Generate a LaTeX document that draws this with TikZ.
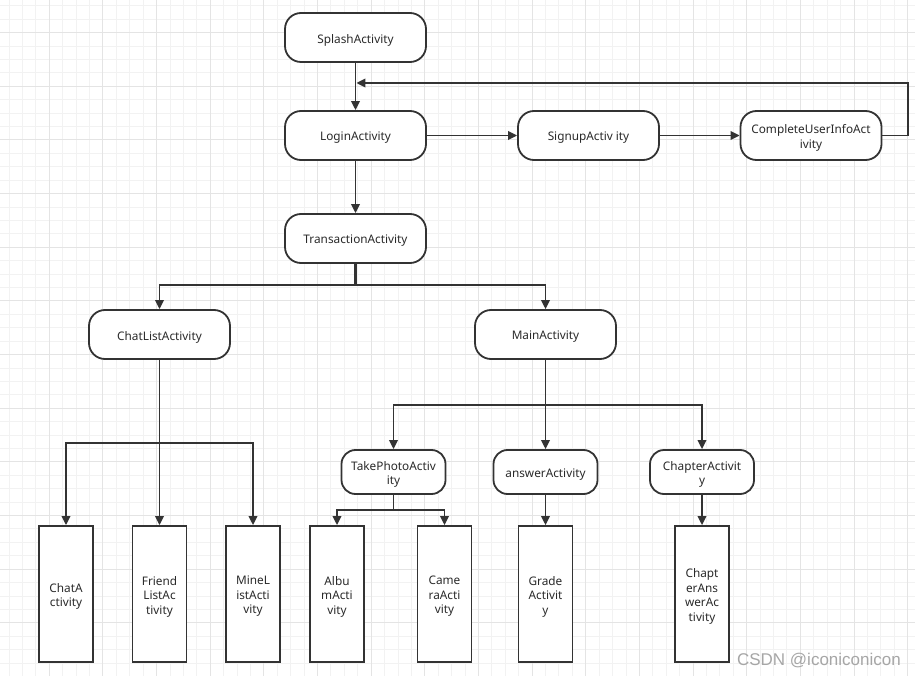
\documentclass[tikz,border=0pt]{standalone}
\usepackage{fontspec}
\setmainfont{Noto Sans}
\newfontfamily\wmfont{Liberation Sans}
\usetikzlibrary{arrows.meta}
\definecolor{ink}{HTML}{333333}
\definecolor{txt}{HTML}{2A2A2A}
\definecolor{gridminor}{HTML}{F2F2F2}
\definecolor{gridmajor}{HTML}{E4E4E4}
\definecolor{wm}{HTML}{A6A6A6}
\tikzset{
  roundbox/.style={draw=ink, line width=1.8pt, rounded corners=16pt, fill=white,
    minimum width=141pt, minimum height=49pt, inner sep=0pt},
  smallround/.style={roundbox, minimum width=104pt, minimum height=44pt, rounded corners=14pt},
  tallbox/.style={draw=ink, line width=1.8pt, fill=white, minimum width=54pt,
    minimum height=136pt, inner sep=0pt},
  lbl/.style={align=center, inner sep=0pt, text=txt, yshift=-2.5pt,
    font=\fontsize{11.8}{14.5}\selectfont},
  conn/.style={draw=ink, line width=1.8pt},
  arr/.style={conn, -{Triangle[length=9pt,width=8.5pt]}},
}
\begin{document}
\begin{tikzpicture}[x=1pt,y=-1pt]
\useasboundingbox (0,0) rectangle (915,676);
\fill[white] (0,0) rectangle (915,676);
% grid
\foreach \i in {0,...,69} {
  \draw[gridminor, line width=1pt] ({-4.35+\i*13.4125},0) -- ({-4.35+\i*13.4125},676);
}
\foreach \j in {0,...,52} {
  \draw[gridminor, line width=1pt] (0,{-7.54+\j*13.4125}) -- (915,{-7.54+\j*13.4125});
}
\foreach \i in {0,...,17} {
  \draw[gridmajor, line width=1pt] ({49.3+(\i-1)*53.65},0) -- ({49.3+(\i-1)*53.65},676);
}
\foreach \j in {0,...,13} {
  \draw[gridmajor, line width=1pt] (0,{32.7+(\j-1)*53.65}) -- (915,{32.7+(\j-1)*53.65});
}

% boxes
\node[roundbox] (splash) at (355.5,37.5) {};
\node[roundbox] (login) at (355.5,135.5) {};
\node[roundbox] (signup) at (588.5,135.5) {};
\node[roundbox] (complete) at (811,135.5) {};
\node[roundbox] (trans) at (355.5,238.5) {};
\node[roundbox] (chatlist) at (159.5,334.5) {};
\node[roundbox] (main) at (545.5,334.5) {};
\node[smallround] (takephoto) at (393.5,472) {};
\node[smallround] (answer) at (545.5,472) {};
\node[smallround] (chapter) at (702,472) {};

\node[tallbox] (chata) at (66,594) {};
\node[tallbox] (friend) at (159.5,594) {};
\node[tallbox] (mine) at (253,594) {};
\node[tallbox] (album) at (337,594) {};
\node[tallbox] (camera) at (444.5,594) {};
\node[tallbox] (grade) at (545.5,594) {};
\node[tallbox] (chapans) at (702,594) {};

% labels
\node[lbl] (splash-t) at (splash.center) {SplashActivity};
\node[lbl] (login-t) at (login.center) {LoginActivity};
\node[lbl] (signup-t) at (signup.center) {SignupActiv ity};
\node[lbl] (complete-t) at (complete.center) {CompleteUserInfoAct\\ivity};
\node[lbl] (trans-t) at (trans.center) {TransactionActivity};
\node[lbl] (chatlist-t) at (chatlist.center) {ChatListActivity};
\node[lbl] (main-t) at (main.center) {MainActivity};
\node[lbl] (takephoto-t) at (takephoto.center) {TakePhotoActiv\\ity};
\node[lbl] (answer-t) at (answer.center) {answerActivity};
\node[lbl] (chapter-t) at (chapter.center) {ChapterActivit\\y};
\node[lbl] (chata-t) at (chata.center) {ChatA\\ctivity};
\node[lbl] (friend-t) at (friend.center) {Friend\\ListAc\\tivity};
\node[lbl] (mine-t) at (mine.center) {MineL\\istActi\\vity};
\node[lbl] (album-t) at (album.center) {Albu\\mActi\\vity};
\node[lbl] (camera-t) at (camera.center) {Came\\raActi\\vity};
\node[lbl] (grade-t) at (grade.center) {Grade\\Activit\\y};
\node[lbl] (chapans-t) at (chapans.center) {Chapt\\erAns\\werAc\\tivity};

% connectors
\draw[arr] (splash) -- (login);
\coordinate (fbR) at (908,83);
\coordinate (fbL) at (356.4,83);
\draw[arr] (complete.east) -| (fbR) -- (fbL);
\draw[arr] (login) -- (signup);
\draw[arr] (signup) -- (complete);
\draw[arr] (login) -- (trans);

\coordinate (tj) at (355.5,285);
\draw[conn, line width=2.4pt] (trans.south) -- (tj);
\draw[arr] (tj) -| (chatlist.north);
\draw[arr] (tj) -| (main.north);

\coordinate (cj) at (159.5,443);
\draw[arr] (chatlist) -- (friend);
\draw[arr] (cj) -| (chata.north);
\draw[arr] (cj) -| (mine.north);

\coordinate (mj) at (545.5,405);
\draw[arr] (main) -- (answer);
\draw[arr] (mj) -| (takephoto.north);
\draw[arr] (mj) -| (chapter.north);

\coordinate (tpj) at (393.5,510);
\draw[conn] (takephoto.south) -- (tpj);
\draw[arr] (tpj) -| (album.north);
\draw[arr] (tpj) -| (camera.north);

\draw[arr] (answer) -- (grade);
\draw[arr] (chapter) -- (chapans);

% watermark
\node[text=wm, font=\wmfont\fontsize{17}{19}\selectfont, anchor=east, inner sep=0pt] (wmark) at (901,660.5) {CSDN @iconiconicon};
\end{tikzpicture}
\end{document}
